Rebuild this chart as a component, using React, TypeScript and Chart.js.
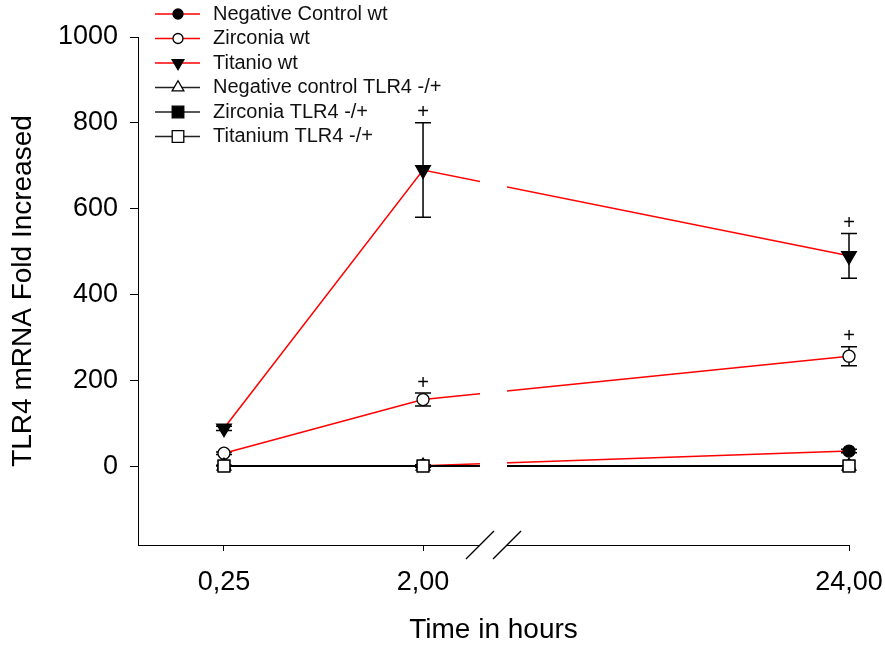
import React, { useEffect, useRef } from "react";
import { Chart, registerables } from "chart.js";

Chart.register(...registerables);

// ---------- data ----------
const hours = [0.25, 2, 24];
const tickLabels = ["0,25", "2,00", "24,00"];
const yTickValues = [0, 200, 400, 600, 800, 1000];

const seriesNames = [
  "Negative Control wt",
  "Zirconia wt",
  "Titanio wt",
  "Negative control TLR4 -/+",
  "Zirconia TLR4 -/+",
  "Titanium TLR4 -/+",
];

const negCtrlWt = [1, 1, 35];
const negCtrlWtErr = [1, 1, 4];
const zirconiaWt = [30, 155, 256];
const zirconiaWtErr = [3, 15, 22];
const titanioWt = [88, 690, 490];
const titanioWtErr = [5, 110, 52];
const negCtrlTlr4 = [0, 0, 0];
const negCtrlTlr4Err = [0, 2, 0];
const zirconiaTlr4 = [0, 0, 0];
const zirconiaTlr4Err = [0, 2, 0];
const titaniumTlr4 = [0, 0, 0];
const titaniumTlr4Err = [0, 3, 0];

const titanioSig = [false, true, true];
const zirconiaSig = [false, true, true];

// ---------- broken-axis mapping ----------
const BREAK_HOUR = 2;
const PRE_BREAK_HOURS_PER_UNIT = 1.75;
const POST_BREAK_UNITS = 2.14;
const axisPos = (h: number) =>
  h <= BREAK_HOUR
    ? (h - hours[0]) / PRE_BREAK_HOURS_PER_UNIT
    : 1 + ((h - BREAK_HOUR) / (hours[2] - BREAK_HOUR)) * POST_BREAK_UNITS;
const X_MIN = -0.432;
const BREAK_START = 1.286;
const BREAK_END = 1.422;

const FONT = "'Liberation Sans', Arial, Helvetica, sans-serif";
const RED = "#ff0000";
const BLACK = "#000000";

type Style = "circle" | "triDown" | "triUp" | "square";

const seriesDefs = [
  { name: seriesNames[0], vals: negCtrlWt, err: negCtrlWtErr, line: RED, style: "circle" as Style, fill: BLACK, r: 6, order: 5, sig: null as boolean[] | null },
  { name: seriesNames[1], vals: zirconiaWt, err: zirconiaWtErr, line: RED, style: "circle" as Style, fill: "#ffffff", r: 6, order: 4, sig: zirconiaSig },
  { name: seriesNames[2], vals: titanioWt, err: titanioWtErr, line: RED, style: "triDown" as Style, fill: BLACK, r: 8.5, order: 3, sig: titanioSig },
  { name: seriesNames[3], vals: negCtrlTlr4, err: negCtrlTlr4Err, line: BLACK, style: "triUp" as Style, fill: "#ffffff", r: 8, order: 2, sig: null },
  { name: seriesNames[4], vals: zirconiaTlr4, err: zirconiaTlr4Err, line: BLACK, style: "square" as Style, fill: BLACK, r: 8.3, order: 1, sig: null },
  { name: seriesNames[5], vals: titaniumTlr4, err: titaniumTlr4Err, line: BLACK, style: "square" as Style, fill: "#ffffff", r: 8.3, order: 0, sig: null },
];

function drawMarker(ctx: CanvasRenderingContext2D, style: Style, x: number, y: number, r: number, fill: string) {
  ctx.beginPath();
  if (style === "circle") {
    ctx.arc(x, y, r, 0, Math.PI * 2);
  } else if (style === "triDown") {
    ctx.moveTo(x, y + r);
    ctx.lineTo(x - 0.866 * r, y - 0.5 * r);
    ctx.lineTo(x + 0.866 * r, y - 0.5 * r);
    ctx.closePath();
  } else if (style === "triUp") {
    ctx.moveTo(x, y - r);
    ctx.lineTo(x - 0.866 * r, y + 0.5 * r);
    ctx.lineTo(x + 0.866 * r, y + 0.5 * r);
    ctx.closePath();
  } else {
    const s = r * Math.SQRT1_2;
    ctx.rect(x - s, y - s, 2 * s, 2 * s);
  }
  ctx.fillStyle = fill;
  ctx.fill();
  ctx.strokeStyle = BLACK;
  ctx.lineWidth = 1.3;
  ctx.stroke();
}

const overlayPlugin = {
  id: "overlay",
  beforeDatasetsDraw(chart: any) {
    const ctx = chart.ctx as CanvasRenderingContext2D;
    const ys = chart.scales.y;
    ctx.save();
    ctx.strokeStyle = BLACK;
    ctx.lineWidth = 1.5;
    seriesDefs.forEach((s, di) => {
      const meta = chart.getDatasetMeta(di);
      s.vals.forEach((v, i) => {
        const e = s.err[i];
        if (!e) return;
        const x = meta.data[i].x;
        const yt = ys.getPixelForValue(v + e);
        const yb = ys.getPixelForValue(v - e);
        ctx.beginPath();
        ctx.moveTo(x, yt);
        ctx.lineTo(x, yb);
        ctx.moveTo(x - 8, yt);
        ctx.lineTo(x + 8, yt);
        ctx.moveTo(x - 8, yb);
        ctx.lineTo(x + 8, yb);
        ctx.stroke();
      });
    });
    ctx.restore();
  },
  afterDatasetsDraw(chart: any) {
    const ctx = chart.ctx as CanvasRenderingContext2D;
    const xs = chart.scales.x;
    const ys = chart.scales.y;
    const area = chart.chartArea;
    const bx0 = xs.getPixelForValue(BREAK_START);
    const bx1 = xs.getPixelForValue(BREAK_END);
    ctx.save();
    // axis break gap
    ctx.fillStyle = "#ffffff";
    ctx.fillRect(bx0, area.top, bx1 - bx0, area.bottom - area.top + 3);
    // slashes
    ctx.strokeStyle = BLACK;
    ctx.lineWidth = 1.4;
    [bx0, bx1].forEach((cx) => {
      ctx.beginPath();
      ctx.moveTo(cx - 14, area.bottom + 14);
      ctx.lineTo(cx + 14, area.bottom - 14);
      ctx.stroke();
    });
    // significance marks
    ctx.fillStyle = BLACK;
    ctx.font = `20px ${FONT}`;
    ctx.textAlign = "center";
    ctx.textBaseline = "middle";
    seriesDefs.forEach((s, di) => {
      if (!s.sig) return;
      const meta = chart.getDatasetMeta(di);
      s.sig.forEach((flag, i) => {
        if (!flag) return;
        const x = meta.data[i].x;
        const yt = ys.getPixelForValue(s.vals[i] + s.err[i]);
        ctx.fillText("+", x, yt - 10);
      });
    });
    ctx.restore();
  },
  afterDraw(chart: any) {
    const ctx = chart.ctx as CanvasRenderingContext2D;
    ctx.save();
    const top = 14;
    const row = 24.5;
    seriesDefs.forEach((s, i) => {
      const y = top + i * row;
      ctx.strokeStyle = s.line === RED ? RED : "#222222";
      ctx.lineWidth = 1.5;
      ctx.beginPath();
      ctx.moveTo(155, y);
      ctx.lineTo(200, y);
      ctx.stroke();
      const r = s.style === "circle" ? 5 : s.style === "square" ? 8.2 : 6.8;
      drawMarker(ctx, s.style, 178, y, r, s.fill);
      ctx.fillStyle = "#111111";
      ctx.font = `20px ${FONT}`;
      ctx.textAlign = "left";
      ctx.textBaseline = "middle";
      ctx.fillText(s.name, 213, y);
    });
    ctx.restore();
  },
};

export default function App() {
  const ref = useRef<HTMLCanvasElement | null>(null);
  useEffect(() => {
    document.body.style.margin = "0";
    const canvas = ref.current;
    if (!canvas) return;
    const datasets = seriesDefs.map((s) => ({
      label: s.name,
      data: hours.map((h, i) => ({ x: axisPos(h), y: s.vals[i] })),
      borderColor: s.line,
      borderWidth: s.line === RED ? 1.5 : 2,
      backgroundColor: s.fill,
      pointStyle: s.style === "circle" ? "circle" : s.style === "square" ? "rect" : "triangle",
      rotation: s.style === "triDown" ? 180 : 0,
      pointRadius: s.r,
      pointBackgroundColor: s.fill,
      pointBorderColor: BLACK,
      pointBorderWidth: 1.3,
      tension: 0,
      clip: false as any,
      order: s.order,
      showLine: true,
    }));
    const chart = new Chart(canvas, {
      type: "line",
      data: { datasets },
      options: {
        responsive: false,
        animation: false,
        layout: { padding: { top: 37, right: 36, left: 0, bottom: 0 } },
        plugins: { legend: { display: false }, tooltip: { enabled: false } },
        scales: {
          x: {
            type: "linear",
            min: X_MIN,
            max: axisPos(hours[2]),
            afterBuildTicks: (s: any) => {
              s.ticks = hours.map((h) => ({ value: axisPos(h) }));
            },
            afterFit: (s: any) => {
              s.height = 105;
              s.paddingLeft = 0;
              s.paddingRight = 0;
            },
            ticks: {
              autoSkip: false,
              maxRotation: 0,
              padding: 15,
              color: BLACK,
              font: { family: FONT, size: 27 },
              callback: (_v: any, i: number) => tickLabels[i],
            },
            grid: { display: true, drawOnChartArea: false, drawTicks: true, tickLength: 6, color: BLACK, lineWidth: 1 },
            border: { display: true, color: BLACK, width: 1 },
            title: {
              display: true,
              text: "Time in hours",
              color: BLACK,
              font: { family: FONT, size: 28, lineHeight: 1 },
              padding: { top: 0, bottom: 6 },
            },
          },
          y: {
            type: "linear",
            min: -184,
            max: 1000,
            afterBuildTicks: (s: any) => {
              s.ticks = yTickValues.map((v) => ({ value: v }));
            },
            afterFit: (s: any) => {
              s.width = 138;
              s.paddingTop = 0;
              s.paddingBottom = 0;
            },
            ticks: {
              padding: 12,
              color: BLACK,
              font: { family: FONT, size: 27 },
              callback: (v: any) => String(v),
            },
            grid: { display: true, drawOnChartArea: false, drawTicks: true, tickLength: 8, color: BLACK, lineWidth: 1 },
            border: { display: true, color: BLACK, width: 1 },
            title: {
              display: true,
              text: "TLR4 mRNA Fold Increased",
              color: BLACK,
              font: { family: FONT, size: 28, lineHeight: 1 },
              padding: { top: 9, bottom: 0 },
            },
          },
        },
      },
      plugins: [overlayPlugin],
    } as any);
    return () => chart.destroy();
  }, []);
  return <canvas ref={ref} width={885} height={650} style={{ display: "block" }} />;
}
